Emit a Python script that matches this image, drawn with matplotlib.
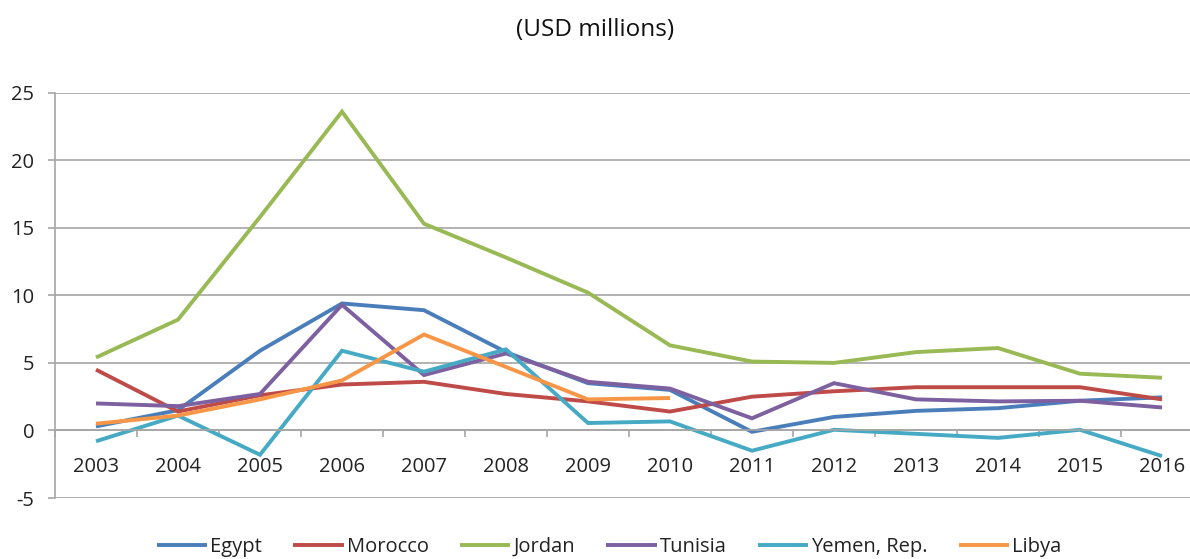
import numpy as np
import matplotlib
matplotlib.use('Agg')
import matplotlib.pyplot as plt
from matplotlib.ticker import FixedLocator

plt.rcParams['font.family'] = ['Open Sans', 'DejaVu Sans']
plt.rcParams['axes.unicode_minus'] = False

years = list(range(2003, 2017))
egypt = [0.3, 1.5, 5.9, 9.4, 8.9, 5.8, 3.5, 3.0, -0.1, 1.0, 1.45, 1.65, 2.2, 2.45]
morocco = [4.5, 1.4, 2.6, 3.4, 3.6, 2.7, 2.15, 1.4, 2.5, 2.9, 3.2, 3.2, 3.2, 2.3]
jordan = [5.4, 8.2, 15.8, 23.6, 15.3, 12.8, 10.2, 6.3, 5.1, 5.0, 5.8, 6.1, 4.2, 3.9]
tunisia = [2.0, 1.8, 2.7, 9.3, 4.1, 5.7, 3.6, 3.1, 0.9, 3.5, 2.3, 2.15, 2.2, 1.7]
yemen = [-0.8, 1.1, -1.8, 5.9, 4.35, 6.0, 0.55, 0.67, -1.5, 0.05, -0.25, -0.55, 0.05, -1.9]
libya = [0.5, 1.1, 2.3, 3.7, 7.1, 4.7, 2.3, 2.4,
         np.nan, np.nan, np.nan, np.nan, np.nan, np.nan]

series = [
    ('Egypt', egypt, '#4A7EBB'),
    ('Morocco', morocco, '#BE4B48'),
    ('Jordan', jordan, '#98B954'),
    ('Tunisia', tunisia, '#7D60A0'),
    ('Yemen, Rep.', yemen, '#46AAC5'),
    ('Libya', libya, '#F79646'),
]

fig = plt.figure(figsize=(11.9, 5.59), dpi=100)
# the plot area runs slightly past the right edge, as in the cropped original
ax = fig.add_axes([55 / 1190, 1 - 498 / 559, (1203 - 55) / 1190, (498 - 92.7) / 559])

x = np.arange(len(years))
for name, vals, col in series:
    ax.plot(x, vals, color=col, lw=2.8, label=name, solid_capstyle='butt',
            solid_joinstyle='miter')

ax.set_xlim(-0.5, len(years) - 0.5)
ax.set_ylim(-5, 25)
ax.set_yticks(np.arange(-5, 26, 5))
ax.yaxis.grid(True, color='#a6a6a6', lw=1.2)
ax.set_axisbelow(True)

for s in ['top', 'right']:
    ax.spines[s].set_visible(False)
ax.spines['left'].set_color('#a6a6a6')
ax.spines['left'].set_linewidth(1.2)
ax.spines['bottom'].set_position(('data', 0))
ax.spines['bottom'].set_color('#a6a6a6')
ax.spines['bottom'].set_linewidth(1.2)

# tick marks between categories, labels on the categories
ax.xaxis.set_major_locator(FixedLocator(np.arange(-0.5, len(years), 1.0)))
ax.xaxis.set_major_formatter(plt.NullFormatter())
ax.set_xticks(x, [str(y) for y in years], minor=True)
ax.tick_params(axis='x', which='major', direction='out', length=5, color='#a6a6a6', width=1.2)
ax.tick_params(axis='x', which='minor', length=0, pad=19, labelsize=14.5, labelcolor='#222222')
ax.tick_params(axis='y', direction='out', length=5, color='#a6a6a6', width=1.2,
               labelsize=14.5, labelcolor='#222222', pad=10)

fig.text(0.5, 1 - 30 / 559, '(USD millions)', ha='center', va='center',
         fontsize=17.5, color='#111111')

fig.legend(loc='center', bbox_to_anchor=(0.512, 1 - 547 / 559), ncol=6, frameon=False,
           fontsize=14.5, handlelength=2.5, handletextpad=0.15, columnspacing=1.55,
           labelcolor='#222222')

fig.savefig('out.png', dpi=100)
